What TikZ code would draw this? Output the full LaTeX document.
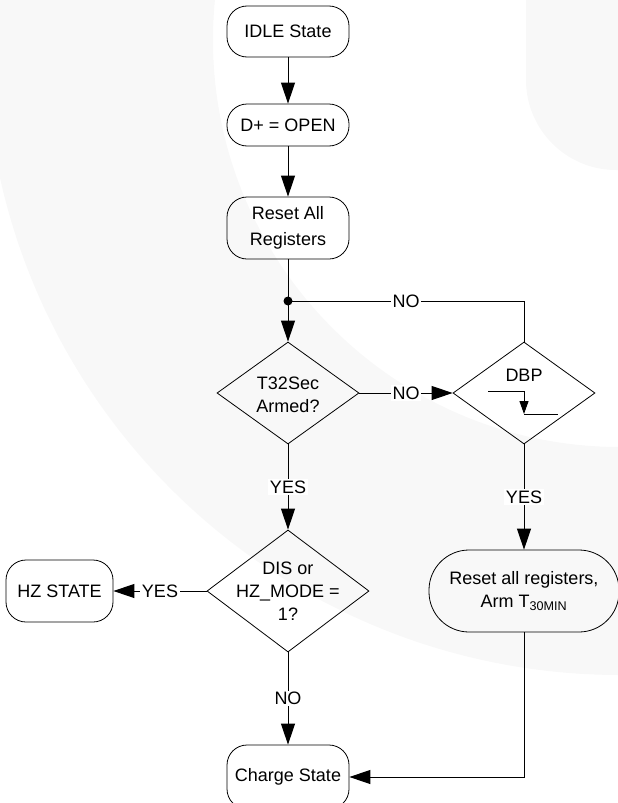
\documentclass[tikz,border=0pt]{standalone}
\usepackage{fontspec}
\setmainfont{Liberation Sans}
\usetikzlibrary{shapes.geometric,arrows.meta,calc}
\definecolor{wm}{gray}{0.972}
\begin{document}
\begin{tikzpicture}[x=1pt,y=-1pt,
  every node/.style={font=\fontsize{18}{23}\selectfont},
  box/.style={draw, line width=0.8pt, rounded corners=20pt, minimum width=122pt, align=center, inner sep=0pt},
  dia/.style={draw, diamond, line width=0.8pt, inner sep=0pt},
  txt/.style={align=center, inner sep=0pt},
  lbl/.style={fill=white, inner sep=1.5pt},
  ln/.style={line width=1pt},
  arr/.style={line width=1pt, -{Triangle[length=21pt,width=14pt]}},
  smallarr/.style={line width=1pt, -{Triangle[length=13pt,width=9pt]}}]
\useasboundingbox (0,0) rectangle (618,803);
\clip (0,0) rectangle (618,803);
% watermark
\fill[wm, even odd rule] (620,40) circle[radius=635pt] (620,40) circle[radius=407pt];
\fill[wm, rounded corners=90pt] (526,-100) rectangle (760,170);
% nodes
\node[box, minimum height=51pt] (idle) at (288,31.5) {IDLE State};
\node[box, minimum height=42pt] (dplus) at (288,125) {D+ = OPEN};
\node[box, minimum height=62pt, font=\fontsize{18}{26}\selectfont] (reset) at (288,228) {Reset All\\Registers};
\coordinate (j) at (288,301);
\node[dia, minimum width=142pt, minimum height=102pt] (t32) at (288,393) {};
\node[txt] (t32t) at (288,394.5) {T32Sec\\Armed?};
\node[dia, minimum width=142pt, minimum height=102pt] (dbp) at (524,393) {};
\node[txt] (dbpt) at (524,375) {DBP};
\node[dia, minimum width=162pt, minimum height=122pt] (dis) at (288,591) {};
\node[txt] (dist) at (288,591) {DIS or\\HZ\_MODE =\\1?};
\node[box, minimum width=107pt, minimum height=62pt] (hz) at (59.5,591) {HZ STATE};
\node[box, minimum width=190pt, minimum height=82pt, rounded corners=40pt] (rst2) at (524,591) {Reset all registers,\\Arm T\textsubscript{30MIN}};
\node[box, minimum height=64pt] (charge) at (288,777) {Charge State};
% step symbol in DBP
\coordinate (s1) at ($(dbp)+(-36,-2)$);
\coordinate (s2) at ($(dbp)+(0,-2)$);
\coordinate (s3) at ($(dbp)+(0,21)$);
\coordinate (s4) at ($(dbp)+(34,21)$);
\draw[ln] (s1) -- (s2);
\draw[smallarr] (s2) -- (s3);
\draw[ln] (s3) -- (s4);
% connectors
\draw[arr] (idle) -- (dplus);
\draw[arr] (dplus) -- (reset);
\draw[ln] (reset) -- (j);
\fill (j) circle[radius=4.5pt];
\draw[arr] (j) -- (t32);
\draw[arr] (t32) -- node[lbl]{NO} (dbp);
\draw[ln] (dbp.north) |- node[lbl, pos=0.75]{NO} (j);
\draw[arr] (t32) -- node[lbl]{YES} (dis);
\draw[arr] (dbp) -- node[lbl]{YES} (rst2);
\draw[arr] (dis) -- node[lbl]{YES} (hz);
\draw[arr] (dis) -- node[lbl]{NO} (charge);
\draw[arr] (rst2.south) |- (charge.east);
\end{tikzpicture}
\end{document}
